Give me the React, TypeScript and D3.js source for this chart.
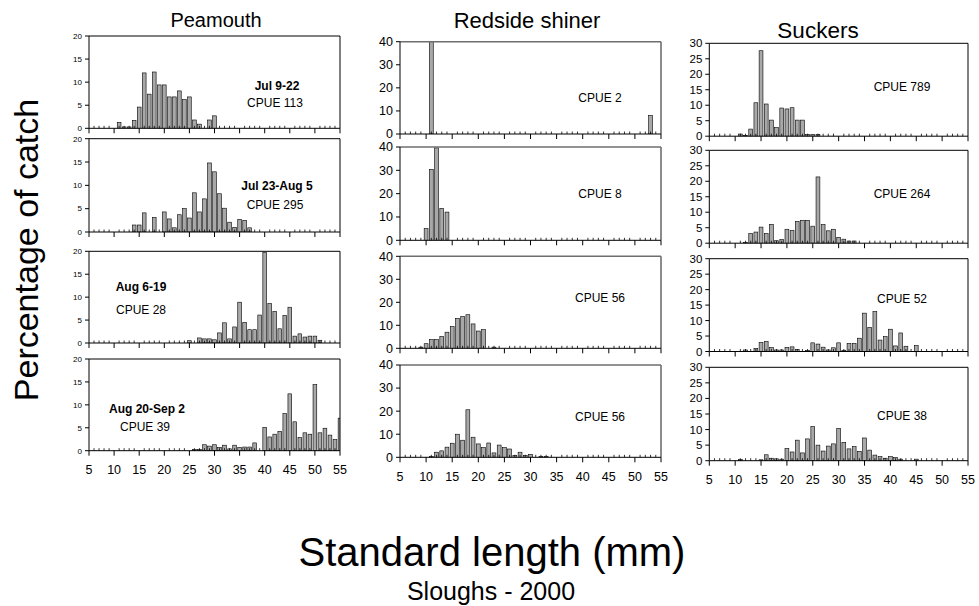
import React from "react";
import * as d3 from "d3";

// Standard length categories (mm)
const lengths: number[] = d3.range(5, 56);
const xTickLabels: number[] = [5, 10, 15, 20, 25, 30, 35, 40, 45, 50, 55];

// helper to build a 51-length series from [length, percent] pairs
function series(pairs: [number, number][]): number[] {
  const m = new Map(pairs);
  return lengths.map((l) => m.get(l) ?? 0);
}

const species: string[] = ["Peamouth", "Redside shiner", "Suckers"];
const periods: string[] = ["Jul 9-22", "Jul 23-Aug 5", "Aug 6-19", "Aug 20-Sep 2"];

const peamouthCPUE: string[] = ["CPUE 113", "CPUE 295", "CPUE 28", "CPUE 39"];
const redsideCPUE: string[] = ["CPUE 2", "CPUE 8", "CPUE 56", "CPUE 56"];
const suckersCPUE: string[] = ["CPUE 789", "CPUE 264", "CPUE 52", "CPUE 38"];

const peamouth1 = series([[11,1.3],[12,0.3],[13,0.3],[14,1.7],[15,4.6],[16,12.0],[17,7.4],[18,12.2],[19,9.4],[20,9.4],[21,6.8],[22,6.8],[23,8.1],[24,6.2],[25,6.8],[26,1.8],[27,0.9],[29,1.8],[30,2.7]]);
const peamouth2 = series([[14,1.5],[15,1.5],[16,4.1],[18,3.1],[20,4.3],[21,2.8],[22,0.9],[23,3.7],[24,5.0],[25,3.0],[26,8.4],[27,4.3],[28,7.1],[29,14.8],[30,12.9],[31,8.2],[32,5.1],[33,2.1],[34,1.0],[35,2.7],[36,2.5],[37,0.9]]);
const peamouth3 = series([[25,0.5],[27,1.1],[28,0.9],[29,0.9],[30,0.7],[31,2.2],[32,4.4],[33,0.9],[34,3.5],[35,8.9],[36,4.5],[37,2.9],[38,2.9],[39,6.1],[40,19.8],[41,8.6],[42,6.9],[43,3.1],[44,6.0],[45,7.8],[46,1.5],[47,2.0],[48,1.3],[49,1.5],[50,1.5],[51,0.6]]);
const peamouth4 = series([[26,0.3],[27,0.3],[28,1.3],[29,1.0],[30,1.3],[31,0.7],[32,1.2],[33,0.4],[34,1.2],[35,0.7],[36,0.8],[37,0.8],[38,1.7],[40,5.1],[41,3.0],[42,3.6],[43,4.2],[44,8.1],[45,12.4],[46,6.3],[47,2.9],[48,3.9],[49,3.6],[50,14.4],[51,3.9],[52,4.9],[53,3.4],[54,2.4],[55,7.1]]);

const redside1 = series([[11,92],[53,8]]);
const redside2 = series([[10,5.0],[11,30.4],[12,39.6],[13,13.7],[14,12.1]]);
const redside3 = series([[9,0.5],[10,2.0],[11,3.8],[12,3.8],[13,5.2],[14,7.0],[15,9.4],[16,13.0],[17,13.8],[18,14.6],[19,10.6],[20,7.5],[21,8.1],[23,0.5]]);
const redside4 = series([[11,0.4],[12,2.2],[13,2.8],[14,4.4],[15,6.1],[16,10.0],[17,7.4],[18,20.6],[19,8.7],[20,5.8],[21,4.2],[22,6.2],[23,1.9],[24,5.3],[25,4.2],[26,3.6],[27,0.8],[28,2.2],[29,0.8],[30,1.3],[32,0.4],[33,0.4]]);

const suckers1 = series([[11,0.7],[12,0.3],[13,2.3],[14,10.8],[15,27.6],[16,10.4],[17,5.2],[18,2.8],[19,9.1],[20,8.8],[21,9.2],[22,5.2],[23,5.2],[24,0.6],[25,0.6],[26,0.6]]);
const suckers2 = series([[12,0.3],[13,3.1],[14,3.6],[15,5.2],[16,3.1],[17,6.1],[18,0.8],[19,1.2],[20,4.5],[21,4.1],[22,7.0],[23,7.4],[24,7.4],[25,5.5],[26,21.4],[27,6.0],[28,4.0],[29,4.5],[30,1.9],[31,1.3],[32,0.7],[33,0.7]]);
const suckers3 = series([[12,0.5],[14,1.0],[15,2.9],[16,3.2],[17,1.3],[18,0.5],[19,0.5],[20,1.3],[21,1.5],[22,0.7],[24,0.3],[25,2.8],[26,2.4],[27,1.4],[28,0.5],[29,1.2],[30,2.8],[31,0.4],[32,2.6],[33,2.6],[34,4.3],[35,12.4],[36,7.8],[37,12.9],[38,3.7],[39,4.8],[40,7.2],[41,1.8],[42,6.0],[43,1.7],[45,1.9]]);
const suckers4 = series([[11,0.4],[15,0.3],[16,1.9],[17,0.8],[18,0.6],[19,0.5],[20,3.9],[21,2.8],[22,6.6],[23,2.5],[24,7.0],[25,11.0],[26,5.0],[27,3.1],[28,4.7],[29,5.4],[30,10.4],[31,5.9],[32,3.8],[33,4.5],[34,3.0],[35,7.3],[36,3.4],[37,1.8],[38,1.3],[39,0.8],[40,1.3],[41,1.0],[42,0.5],[45,0.5]]);

const peamouthYTicks: number[] = [0, 5, 10, 15, 20];
const redsideYTicks: number[] = [0, 10, 20, 30, 40];
const suckersYTicks: number[] = [0, 5, 10, 15, 20, 25, 30];

const FONT = "'Liberation Sans', Arial, Helvetica, sans-serif";

type PanelDef = {
  id: string;
  x0: number; x1: number; yTop: number; yBottom: number;
  ticks: number[]; values: number[];
  tickFont: number; showX: boolean; xLabelY: number;
  frameColor: string; frameWidth: number;
  notes: { text: string; x: number; y: number; bold: boolean }[];
};

function Panel({ p }: { p: PanelDef }) {
  const x = d3.scaleLinear().domain([5, 55]).range([p.x0, p.x1]);
  const yMax = d3.max(p.ticks) as number;
  const y = d3.scaleLinear().domain([0, yMax]).range([p.yBottom, p.yTop]);
  const step = x(6) - x(5);
  const bw = step * 0.74;
  return (
    <g>
      <defs>
        <clipPath id={p.id}>
          <rect x={p.x0} y={p.yTop} width={p.x1 - p.x0} height={p.yBottom - p.yTop} />
        </clipPath>
      </defs>
      <g clipPath={`url(#${p.id})`}>
        {lengths.map((l, i) =>
          p.values[i] > 0 ? (
            <rect key={l} x={x(l) - bw / 2} y={y(Math.min(p.values[i], yMax))}
              width={bw} height={p.yBottom - y(Math.min(p.values[i], yMax))}
              fill="#a8a8a8" stroke="#000" strokeWidth={0.6} />
          ) : null
        )}
      </g>
      <line x1={p.x0} x2={p.x1} y1={p.yTop} y2={p.yTop} stroke={p.frameColor} strokeWidth={p.frameWidth} />
      <line x1={p.x1} x2={p.x1} y1={p.yTop} y2={p.yBottom} stroke={p.frameColor} strokeWidth={p.frameWidth} />
      <line x1={p.x0} x2={p.x0} y1={p.yTop} y2={p.yBottom} stroke="#000" strokeWidth={1} />
      {p.ticks.map((t) => (
        <g key={t}>
          <line x1={p.x0 - 4} x2={p.x0} y1={y(t)} y2={y(t)} stroke="#000" strokeWidth={1} />
          <text x={p.x0 - 7} y={y(t)} dy="0.35em" textAnchor="end" fontSize={p.tickFont} fontFamily={FONT}>{t}</text>
        </g>
      ))}
      <line x1={p.x0} x2={p.x1} y1={p.yBottom} y2={p.yBottom} stroke="#000" strokeWidth={1} />
      {lengths.map((l) =>
        l % 5 === 0 ? (
          <line key={l} x1={x(l)} x2={x(l)} y1={p.yBottom} y2={p.yBottom + 5} stroke="#000" strokeWidth={1} />
        ) : (
          <line key={l} x1={x(l)} x2={x(l)} y1={p.yBottom - 2.5} y2={p.yBottom} stroke="#000" strokeWidth={0.8} />
        )
      )}
      {p.showX && xTickLabels.map((t) => (
        <text key={t} x={x(t)} y={p.xLabelY} textAnchor="middle" fontSize={12.5} fontFamily={FONT}>{t}</text>
      ))}
      {p.notes.map((n, i) => (
        <text key={i} x={n.x} y={n.y} textAnchor="middle" fontSize={12} fontWeight={n.bold ? "bold" : "normal"} fontFamily={FONT}>{n.text}</text>
      ))}
    </g>
  );
}

export default function App() {
  const col1 = { x0: 89, x1: 340, rows: [[36, 128.3], [138.7, 232], [251.3, 343], [359, 450.7]], xLabelY: 474 };
  const col2 = { x0: 400, x1: 661, rows: [[41.7, 134], [147, 240.3], [256.3, 348.3], [365, 457.3]], xLabelY: 481 };
  const col3 = { x0: 709.3, x1: 968, rows: [[43.3, 136.2], [150.3, 243.2], [258.7, 351.5], [367.3, 460.7]], xLabelY: 484 };

  const peaVals = [peamouth1, peamouth2, peamouth3, peamouth4];
  const redVals = [redside1, redside2, redside3, redside4];
  const suckVals = [suckers1, suckers2, suckers3, suckers4];

  const peaNotes = [
    [{ text: periods[0], x: 277, y: 90, bold: true }, { text: peamouthCPUE[0], x: 275, y: 107, bold: false }],
    [{ text: periods[1], x: 277, y: 190, bold: true }, { text: peamouthCPUE[1], x: 275, y: 209, bold: false }],
    [{ text: periods[2], x: 141, y: 291, bold: true }, { text: peamouthCPUE[2], x: 141, y: 314, bold: false }],
    [{ text: periods[3], x: 147, y: 413, bold: true }, { text: peamouthCPUE[3], x: 145, y: 431, bold: false }],
  ];
  const redNoteY = [102, 198, 302, 421];
  const suckNoteY = [91, 198, 303, 420];

  const panels: PanelDef[] = [];
  col1.rows.forEach((r, i) => panels.push({
    id: `c1r${i}`, x0: col1.x0, x1: col1.x1, yTop: r[0], yBottom: r[1], ticks: peamouthYTicks,
    values: peaVals[i], tickFont: 8, showX: i === 3, xLabelY: col1.xLabelY,
    frameColor: "#000", frameWidth: 1, notes: peaNotes[i],
  }));
  col2.rows.forEach((r, i) => panels.push({
    id: `c2r${i}`, x0: col2.x0, x1: col2.x1, yTop: r[0], yBottom: r[1], ticks: redsideYTicks,
    values: redVals[i], tickFont: 12.5, showX: i === 3, xLabelY: col2.xLabelY,
    frameColor: "#6e6e6e", frameWidth: 1.6, notes: [{ text: redsideCPUE[i], x: 600, y: redNoteY[i], bold: false }],
  }));
  col3.rows.forEach((r, i) => panels.push({
    id: `c3r${i}`, x0: col3.x0, x1: col3.x1, yTop: r[0], yBottom: r[1], ticks: suckersYTicks,
    values: suckVals[i], tickFont: 11.5, showX: i === 3, xLabelY: col3.xLabelY,
    frameColor: "#000", frameWidth: 1, notes: [{ text: suckersCPUE[i], x: 902, y: suckNoteY[i], bold: false }],
  }));

  return (
    <svg width={979} height={606} style={{ position: "absolute", left: 0, top: 0, background: "#fff" }}>
      <rect width={979} height={606} fill="#fff" />
      <text x={216} y={27} textAnchor="middle" fontSize={20} fontFamily={FONT}>{species[0]}</text>
      <text x={527} y={28} textAnchor="middle" fontSize={22} fontFamily={FONT}>{species[1]}</text>
      <text x={818} y={38} textAnchor="middle" fontSize={22.5} fontFamily={FONT}>{species[2]}</text>
      {panels.map((p) => <Panel key={p.id} p={p} />)}
      <text transform="translate(38,250) rotate(-90)" textAnchor="middle" fontSize={34} fontFamily={FONT}>Percentage of catch</text>
      <text x={492} y={566} textAnchor="middle" fontSize={40} fontFamily={FONT}>Standard length (mm)</text>
      <text x={491} y={600} textAnchor="middle" fontSize={25} fontFamily={FONT}>Sloughs - 2000</text>
    </svg>
  );
}
